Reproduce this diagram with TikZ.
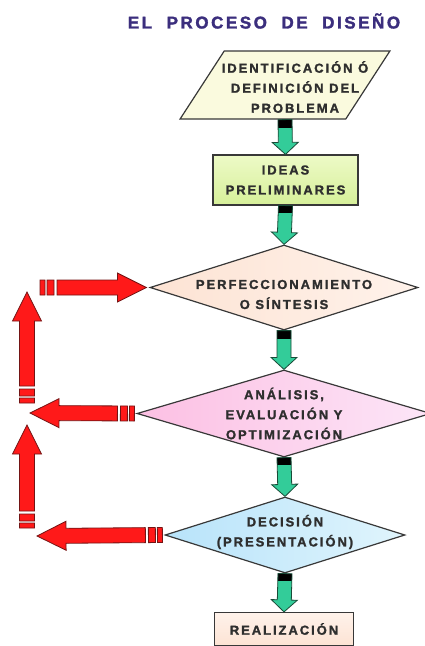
\documentclass[tikz,border=0pt]{standalone}
\usepackage{fontspec}
\usepackage{tikz}
\newfontfamily\boxfont[LetterSpace=15, BoldFeatures={FakeBold=1.6}]{Liberation Sans}
\newfontfamily\titlefont[LetterSpace=15, BoldFeatures={FakeBold=1.8}]{Liberation Sans}
\definecolor{titleblue}{rgb}{0.23, 0.18, 0.49}
\definecolor{textgray}{rgb}{0.18, 0.18, 0.18}
\definecolor{edgegray}{rgb}{0.22, 0.22, 0.22}
\definecolor{creamyellow}{rgb}{0.98, 0.98, 0.87}
\definecolor{lightgreen}{rgb}{0.84, 0.94, 0.60}
\definecolor{palegreen}{rgb}{0.93, 0.98, 0.78}
\definecolor{peach}{rgb}{0.99, 0.89, 0.83}
\definecolor{palepeach}{rgb}{1, 0.95, 0.92}
\definecolor{pinklilac}{rgb}{0.99, 0.75, 0.89}
\definecolor{palepink}{rgb}{0.99, 0.90, 0.97}
\definecolor{skyblue}{rgb}{0.72, 0.89, 0.98}
\definecolor{paleblue}{rgb}{0.88, 0.96, 0.99}
\definecolor{arrowgreen}{rgb}{0.2, 0.8, 0.6}
\definecolor{darkgreen}{rgb}{0.1, 0.3, 0.22}
\definecolor{arrowred}{rgb}{1, 0.1, 0.1}
\definecolor{darkred}{rgb}{0.45, 0.08, 0.08}
\usetikzlibrary{shapes.geometric, calc}

\tikzset{
	txt/.style={font=\boxfont\bfseries\fontsize{13}{20}\selectfont, text=textgray, align=center, inner sep=0pt},
	flowbox/.style={draw=edgegray, line width=1.2pt, rectangle, txt},
	decision/.style={draw=edgegray, line width=1.2pt, diamond, inner sep=0pt},
	greenarr/.style={draw=darkgreen, fill=arrowgreen, line width=0.8pt,
		path picture={\fill[black] ([yshift=2pt]path picture bounding box.north west) rectangle ([yshift=-8pt]path picture bounding box.north east);},
		to path={($(\tikztostart)!7pt!90:(\tikztotarget)$)
			-- ($(\tikztotarget)!12pt!(\tikztostart)!7pt!-90:(\tikztostart)$)
			-- ($(\tikztotarget)!12pt!(\tikztostart)!13pt!-90:(\tikztostart)$)
			-- (\tikztotarget)
			-- ($(\tikztotarget)!12pt!(\tikztostart)!13pt!90:(\tikztostart)$)
			-- ($(\tikztotarget)!12pt!(\tikztostart)!7pt!90:(\tikztostart)$)
			-- ($(\tikztostart)!7pt!-90:(\tikztotarget)$) -- cycle}},
	redarr/.style={draw=darkred, fill=arrowred, line width=0.8pt,
		to path={($(\tikztostart)!7.5pt!90:(\tikztotarget)$)
			-- ($(\tikztostart)!5pt!(\tikztotarget)!7.5pt!90:(\tikztotarget)$)
			-- ($(\tikztostart)!5pt!(\tikztotarget)!7.5pt!-90:(\tikztotarget)$)
			-- ($(\tikztostart)!7.5pt!-90:(\tikztotarget)$) -- cycle
			($(\tikztostart)!7pt!(\tikztotarget)!7.5pt!90:(\tikztotarget)$)
			-- ($(\tikztostart)!14pt!(\tikztotarget)!7.5pt!90:(\tikztotarget)$)
			-- ($(\tikztostart)!14pt!(\tikztotarget)!7.5pt!-90:(\tikztotarget)$)
			-- ($(\tikztostart)!7pt!(\tikztotarget)!7.5pt!-90:(\tikztotarget)$) -- cycle
			($(\tikztostart)!17pt!(\tikztotarget)!7.5pt!90:(\tikztotarget)$)
			-- ($(\tikztotarget)!29pt!(\tikztostart)!7.5pt!-90:(\tikztostart)$)
			-- ($(\tikztotarget)!29pt!(\tikztostart)!14.5pt!-90:(\tikztostart)$)
			-- (\tikztotarget)
			-- ($(\tikztotarget)!29pt!(\tikztostart)!14.5pt!90:(\tikztostart)$)
			-- ($(\tikztotarget)!29pt!(\tikztostart)!7.5pt!90:(\tikztostart)$)
			-- ($(\tikztostart)!17pt!(\tikztotarget)!7.5pt!-90:(\tikztotarget)$) -- cycle}}
}

\begin{document}
\begin{tikzpicture}[x=1pt, y=-1pt]
	\useasboundingbox (0,0) rectangle (424,646);
	
	\node[font=\titlefont\bfseries\fontsize{17}{19}\selectfont, text=titleblue] (title) at (264,21) {EL\ \ PROCESO\ \ DE\ \ DISEÑO};
	
	\node[trapezium, trapezium left angle=64, trapezium right angle=116, trapezium stretches=true, minimum width=210pt, minimum height=68pt, draw=edgegray, line width=1.2pt, fill=creamyellow, inner sep=0pt, label={[txt, xshift=10pt, yshift=-2pt]center:IDENTIFICACIÓN Ó\\DEFINICIÓN DEL\\PROBLEMA}] (ident) at (285,85) {\phantom{M}};
	\node[flowbox, top color=palegreen, bottom color=lightgreen, minimum width=145pt, minimum height=50pt] (ideas) at (285.5,180) {IDEAS\\PRELIMINARES};
	\node[decision, left color=peach, right color=palepeach, minimum width=268pt, minimum height=85pt, label={[txt, yshift=-7pt]center:PERFECCIONAMIENTO\\O SÍNTESIS}] (perf) at (284,287.5) {};
	\node[decision, left color=pinklilac, right color=palepink, minimum width=294pt, minimum height=87pt, label={[txt]center:{ANÁLISIS,\\EVALUACIÓN Y\\OPTIMIZACIÓN}}] (anal) at (284,413.5) {};
	\node[decision, left color=skyblue, right color=paleblue, minimum width=240pt, minimum height=76pt, label={[txt, yshift=3pt]center:DECISIÓN\\(PRESENTACIÓN)}] (deci) at (285,535) {};
	\node[flowbox, top color=palepeach, bottom color=peach, minimum width=139pt, minimum height=33pt] (real) at (284,629) {REALIZACIÓN};
	
	\path[greenarr] (ident.south) to (ideas.north);
	\path[greenarr] (ideas.south) to (perf.north);
	\path[greenarr] (perf.south) to (anal.north);
	\path[greenarr] (anal.south) to (deci.north);
	\path[greenarr] (deci.south) to (real.north);
	
	% feedback arrows
	\coordinate (fr1) at (40,287.5);
	\coordinate (fb1) at (27,403);
	\coordinate (ft1) at (27,292);
	\coordinate (fl1) at (30,413);
	\coordinate (fb2) at (27,528);
	\coordinate (ft2) at (27,425);
	\coordinate (fl2) at (37,536);
	
	\path[redarr] ([xshift=-2pt]anal.west) to (fl1);
	\path[redarr] (fb1) to (ft1);
	\path[redarr] (fr1) to ([xshift=-3pt]perf.west);
	\path[redarr] ([xshift=-2pt]deci.west) to (fl2);
	\path[redarr] (fb2) to (ft2);
	
\end{tikzpicture}
\end{document}
